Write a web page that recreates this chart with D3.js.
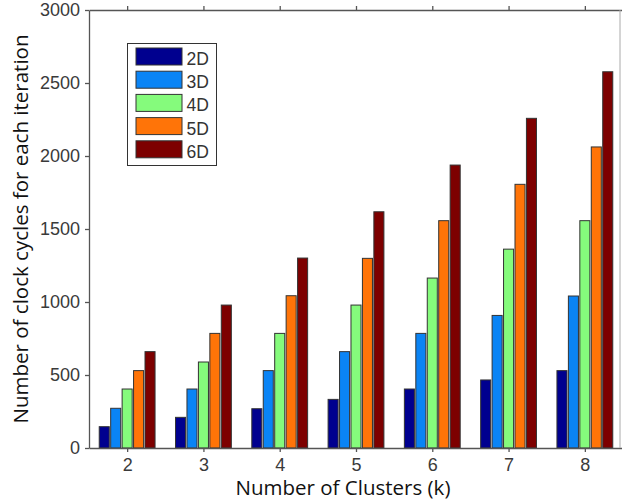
<!DOCTYPE html>
<html>
<head>
<meta charset="utf-8">
<script src="https://cdn.jsdelivr.net/npm/d3@7"></script>
<style>
  body { margin: 0; background: #fff; }
  svg { display: block; }
</style>
</head>
<body>
<div id="chart"></div>
<script>
// data
const clusters = [2, 3, 4, 5, 6, 7, 8];
const seriesNames = ['2D', '3D', '4D', '5D', '6D'];
const values2D = [146, 210, 269, 333, 404, 466, 530];
const values3D = [272, 404, 530, 660, 785, 908, 1041];
const values4D = [404, 589, 785, 979, 1164, 1362, 1557];
const values5D = [530, 785, 1043, 1299, 1557, 1806, 2062];
const values6D = [660, 979, 1301, 1618, 1938, 2258, 2577];
const yTicks = [0, 500, 1000, 1500, 2000, 2500, 3000];
const colors = ['#00008f', '#0a84f5', '#85fb7c', '#ff7408', '#7d0000'];

const allSeries = [values2D, values3D, values4D, values5D, values6D];

const width = 622, height = 504;
const svg = d3.select('#chart').append('svg')
    .attr('width', width)
    .attr('height', height);

const x = d3.scaleLinear().domain([1.5, 8.5]).range([89, 623]);
const y = d3.scaleLinear().domain([0, 3000]).range([448, 10]);

// offsets of the 5 bars within a group
const offset = d3.scaleBand().domain(seriesNames).range([-0.375, 0.375]);
const unit = x(1) - x(0);
const barW = offset.bandwidth() * unit - 1.4;

const groups = svg.append('g').selectAll('g')
    .data(seriesNames)
    .enter().append('g')
    .attr('fill', (d, i) => colors[i]);

groups.selectAll('rect')
    .data((d, i) => clusters.map((k, j) => ({ k: k, v: allSeries[i][j], s: d })))
    .enter().append('rect')
    .attr('x', d => x(d.k + offset(d.s)) + 0.7)
    .attr('y', d => y(d.v))
    .attr('width', barW)
    .attr('height', d => y(0) - y(d.v))
    .attr('stroke', '#333')
    .attr('stroke-width', 1);

// axes
const axisColor = '#555';
const tickFont = '"Liberation Sans", Arial, sans-serif';

const leftAxis = svg.append('g')
    .attr('transform', `translate(${x(1.5)},0)`)
    .call(d3.axisLeft(y).tickValues(yTicks).tickFormat(d3.format('d'))
        .tickSize(4).tickSizeOuter(0).tickPadding(5));

const bottomAxis = svg.append('g')
    .attr('transform', `translate(0,${y(0)})`)
    .call(d3.axisBottom(x).tickValues(clusters).tickFormat(d3.format('d'))
        .tickSize(4).tickSizeOuter(0).tickPadding(6));

const topAxis = svg.append('g')
    .attr('transform', `translate(0,${y(3000)})`)
    .call(d3.axisTop(x).tickValues(clusters).tickFormat('').tickSize(4).tickSizeOuter(0));

svg.append('line')
    .attr('x1', 620).attr('x2', 620)
    .attr('y1', y(3000)).attr('y2', y(0))
    .attr('stroke', '#aaa').attr('stroke-width', 1);

[leftAxis, bottomAxis, topAxis].forEach(g => {
    g.selectAll('path, line').attr('stroke', axisColor).attr('stroke-width', 1.3);
    g.selectAll('text')
        .attr('fill', '#3a3a3a')
        .style('font-family', tickFont)
        .style('font-size', '18px');
});

// axis titles
const titleFont = '"Open Sans", "Noto Sans", sans-serif';
svg.append('text')
    .attr('x', 343)
    .attr('y', 495)
    .attr('text-anchor', 'middle')
    .attr('fill', '#111')
    .style('font-family', titleFont)
    .style('font-size', '20.5px')
    .text('Number of Clusters (k)');

svg.append('text')
    .attr('transform', 'translate(28,229) rotate(-90)')
    .attr('text-anchor', 'middle')
    .attr('fill', '#111')
    .style('font-family', titleFont)
    .style('font-size', '20.5px')
    .text('Number of clock cycles for each iteration');

// legend
const legend = svg.append('g');
legend.append('rect')
    .attr('x', 127.5).attr('y', 43.5)
    .attr('width', 89).attr('height', 122)
    .attr('fill', '#fff')
    .attr('stroke', '#333')
    .attr('stroke-width', 1);

const items = legend.selectAll('g.item')
    .data(seriesNames)
    .enter().append('g')
    .attr('class', 'item')
    .attr('transform', (d, i) => `translate(0,${48 + i * 23.2})`);

items.append('rect')
    .attr('x', 136).attr('y', 0)
    .attr('width', 46).attr('height', 17)
    .attr('fill', (d, i) => colors[i])
    .attr('stroke', '#333')
    .attr('stroke-width', 1);

items.append('text')
    .attr('x', 186.5)
    .attr('y', 17)
    .attr('fill', '#333')
    .style('font-family', tickFont)
    .style('font-size', '17.5px')
    .text(d => d);
</script>
</body>
</html>
